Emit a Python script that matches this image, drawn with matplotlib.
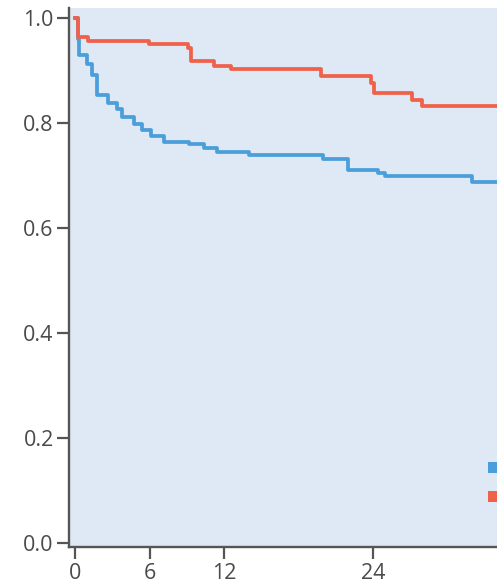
import matplotlib
matplotlib.use("Agg")
import matplotlib.pyplot as plt
from matplotlib.patches import Patch

# Kaplan-Meier steps (months, survival probability)
blue_t = [0, 0.2, 0.33, 0.95, 1.36, 1.77, 2.69, 3.39, 3.8, 4.76, 5.37, 6.1, 7.16,
          9.19, 10.4, 11.4, 14.0, 20.0, 21.97, 24.4, 24.96, 32.0, 36.0]
blue_s = [1.0, 0.960, 0.930, 0.914, 0.892, 0.854, 0.838, 0.828, 0.812, 0.798, 0.788,
          0.775, 0.765, 0.760, 0.752, 0.746, 0.739, 0.731, 0.710, 0.706, 0.699, 0.688, 0.688]

red_t = [0, 0.27, 1.06, 5.96, 9.09, 9.36, 11.23, 12.6, 19.8, 23.87, 24.06, 27.12, 27.93, 36.0]
red_s = [1.0, 0.965, 0.957, 0.952, 0.943, 0.919, 0.910, 0.903, 0.890, 0.876, 0.857,
         0.845, 0.833, 0.833]

x_ticks = [0, 6, 12, 24]
y_ticks = [0.0, 0.2, 0.4, 0.6, 0.8, 1.0]

BLUE = "#4a9fda"
RED = "#f0614a"
BG = "#dfe9f5"
GREY = "#555555"

plt.rcParams["font.family"] = ["Open Sans", "DejaVu Sans"]

fig = plt.figure(figsize=(4.97, 5.87), dpi=100)
ax = fig.add_axes([69 / 497, 40.3 / 587, 1 - 69 / 497 + 0.01, 538.7 / 587])
ax.set_facecolor(BG)

ax.step(blue_t, blue_s, where="post", color=BLUE, lw=2.7, zorder=2)
ax.step(red_t, red_s, where="post", color=RED, lw=2.7, zorder=3)

ax.set_xlim(-0.49, 34.4)
ax.set_ylim(-0.008, 1.02)
ax.set_xticks(x_ticks)
ax.set_yticks(y_ticks)
ax.set_yticklabels([f"{v:.1f}" for v in y_ticks])

for side in ("top", "right"):
    ax.spines[side].set_visible(False)
for side in ("left", "bottom"):
    ax.spines[side].set_color(GREY)
    ax.spines[side].set_linewidth(1.7)

ax.tick_params(axis="both", length=8.5, width=1.6, color=GREY,
               labelsize=15.5, labelcolor="#4a4a4a")
ax.tick_params(axis="y", pad=2.5)
ax.tick_params(axis="x", pad=3)

handles = [Patch(facecolor=BLUE, edgecolor="none"),
           Patch(facecolor=RED, edgecolor="none")]
ax.legend(handles, ["", ""], loc="upper left",
          bbox_to_anchor=(487.7 / 497, 1 - 460 / 587), bbox_transform=fig.transFigure,
          frameon=False, borderpad=0, borderaxespad=0, fontsize=13,
          handlelength=1.5, handleheight=0.5, labelspacing=0.6)

fig.savefig("out.png", dpi=100, facecolor="white")
